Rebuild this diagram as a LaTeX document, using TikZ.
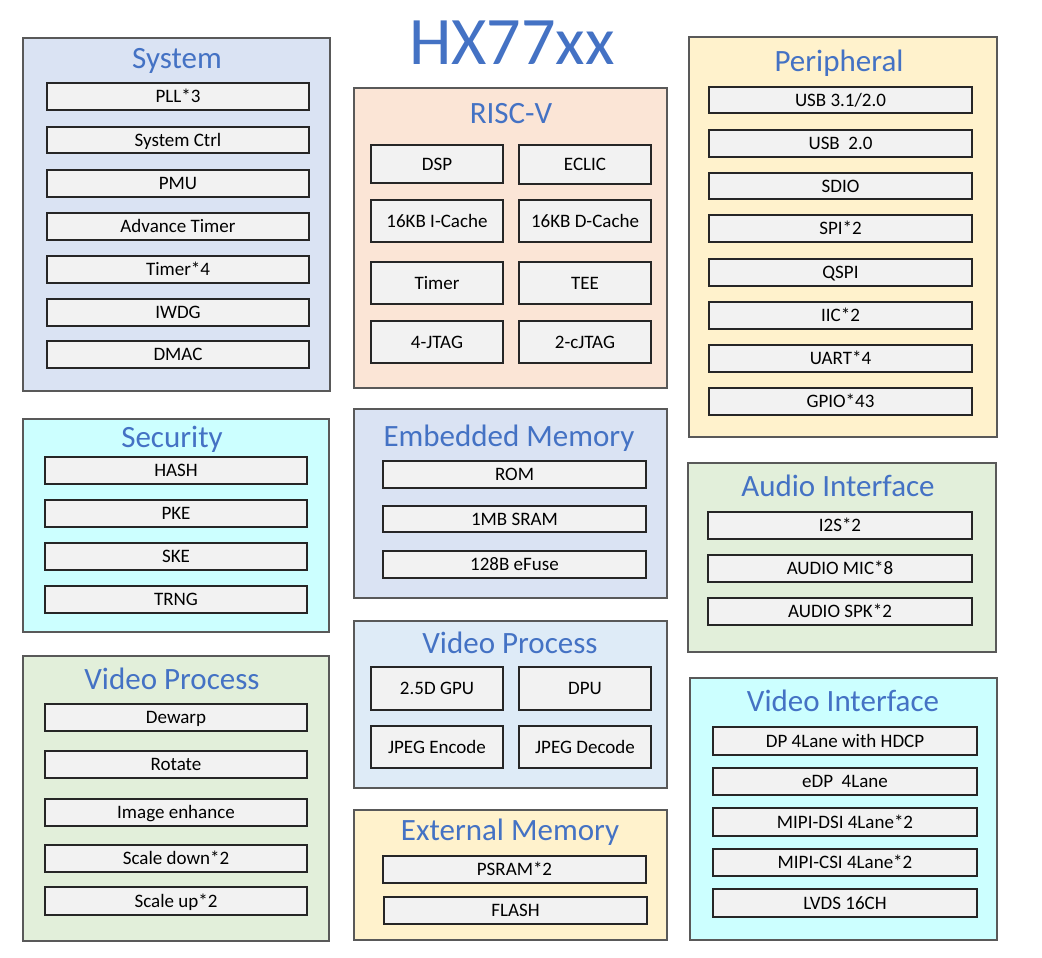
\documentclass[tikz,border=0pt]{standalone}
\usepackage{fontspec}
\setmainfont{Carlito}
\definecolor{ttlblue}{HTML}{4472C4}
\definecolor{fBlue}{HTML}{DAE3F3}
\definecolor{fPeach}{HTML}{FBE5D6}
\definecolor{fYellow}{HTML}{FFF2CC}
\definecolor{fCyan}{HTML}{CCFFFF}
\definecolor{fGreen}{HTML}{E2EFDA}
\definecolor{fSky}{HTML}{DEEBF7}
\definecolor{fItem}{HTML}{F2F2F2}
\definecolor{bOuter}{HTML}{595959}
\definecolor{bItem}{HTML}{262626}
\tikzset{
  groupbox/.style={draw=bOuter, line width=1.3pt, inner sep=0pt},
  itembox/.style={draw=bItem, fill=fItem, line width=1.1pt, inner sep=0pt,
    font=\fontsize{19}{21}\selectfont, text height=12.2pt, text depth=0pt},
  ttl/.style={anchor=base, text=ttlblue, inner sep=0pt, font=\fontsize{31}{34}\selectfont},
}
% \placebox{style}{name}{x1}{y1}{x2}{y2}{text}
\newcommand{\placebox}[7]{%
  \node[#1, minimum width={(#5-#3)*1pt}, minimum height={(#6-#4)*1pt}] (#2) at ({(#3+#5)/2},{(#4+#6)/2}) {#7};}
\begin{document}
\begin{tikzpicture}[x=1pt, y=-1pt]
\useasboundingbox (0,0) rectangle (1042,958);

% main title
\node[anchor=base, text=ttlblue, inner sep=0pt, font=\fontsize{68}{72}\selectfont] (main) at (512,65) {HX77xx};

% ---------- System ----------
\placebox{groupbox, fill=fBlue}{sys}{23}{38}{330}{391}{}
\node[ttl] (sysT) at (177,69) {System};
\placebox{itembox}{sys1}{47}{83}{309}{110}{PLL*3}
\placebox{itembox}{sys2}{47}{127}{309}{153}{System Ctrl}
\placebox{itembox}{sys3}{47}{170}{309}{197}{PMU}
\placebox{itembox}{sys4}{47}{213}{309}{240}{Advance Timer}
\placebox{itembox}{sys5}{47}{256}{309}{283}{Timer*4}
\placebox{itembox}{sys6}{47}{299}{309}{326}{IWDG}
\placebox{itembox}{sys7}{47}{341}{309}{368}{DMAC}

% ---------- Security ----------
\placebox{groupbox, fill=fCyan}{sec}{23}{419}{329}{632}{}
\node[ttl] (secT) at (172,447) {Security};
\placebox{itembox}{sec1}{45}{457}{307}{484}{HASH}
\placebox{itembox}{sec2}{45}{500}{307}{527}{PKE}
\placebox{itembox}{sec3}{45}{543}{307}{570}{SKE}
\placebox{itembox}{sec4}{45}{586}{307}{613}{TRNG}

% ---------- Video Process (left) ----------
\placebox{groupbox, fill=fGreen}{vpl}{23}{656}{329}{941}{}
\node[ttl] (vplT) at (172,689) {Video Process};
\placebox{itembox}{vpl1}{45}{704}{307}{731}{Dewarp}
\placebox{itembox}{vpl2}{45}{751}{307}{778}{Rotate}
\placebox{itembox}{vpl3}{45}{799}{307}{826}{Image enhance}
\placebox{itembox}{vpl4}{45}{845}{307}{872}{Scale down*2}
\placebox{itembox}{vpl5}{45}{887}{307}{915}{Scale up*2}

% ---------- RISC-V ----------
\placebox{groupbox, fill=fPeach}{rv}{354}{88}{667}{388}{}
\node[ttl] (rvT) at (511,124) {RISC-V};
\placebox{itembox}{rv1}{371}{145}{503}{183}{DSP}
\placebox{itembox}{rv2}{519}{145}{651}{184}{ECLIC}
\placebox{itembox}{rv3}{371}{200}{503}{242}{16KB I-Cache}
\placebox{itembox}{rv4}{519}{200}{651}{242}{16KB D-Cache}
\placebox{itembox}{rv5}{371}{262}{503}{304}{Timer}
\placebox{itembox}{rv6}{519}{262}{651}{304}{TEE}
\placebox{itembox}{rv7}{371}{321}{503}{363}{4-JTAG}
\placebox{itembox}{rv8}{519}{321}{651}{363}{2-cJTAG}

% ---------- Embedded Memory ----------
\placebox{groupbox, fill=fBlue}{em}{354}{409}{667}{598}{}
\node[ttl] (emT) at (509,446) {Embedded Memory};
\placebox{itembox}{em1}{383}{461}{646}{488}{ROM}
\placebox{itembox}{em2}{383}{506}{646}{532}{1MB SRAM}
\placebox{itembox}{em3}{383}{551}{646}{578}{128B eFuse}

% ---------- Video Process (middle) ----------
\placebox{groupbox, fill=fSky}{vpm}{354}{621}{667}{788}{}
\node[ttl] (vpmT) at (510,653) {Video Process};
\placebox{itembox}{vpm1}{371}{667}{503}{710}{2.5D GPU}
\placebox{itembox}{vpm2}{519}{667}{651}{710}{DPU}
\placebox{itembox}{vpm3}{371}{726}{503}{768}{JPEG Encode}
\placebox{itembox}{vpm4}{519}{726}{651}{768}{JPEG Decode}

% ---------- External Memory ----------
\placebox{groupbox, fill=fYellow}{xm}{354}{810}{667}{940}{}
\node[ttl] (xmT) at (510,840) {External Memory};
\placebox{itembox}{xm1}{383}{856}{646}{883}{PSRAM*2}
\placebox{itembox}{xm2}{384}{897}{647}{924}{FLASH}

% ---------- Peripheral ----------
\placebox{groupbox, fill=fYellow}{per}{689}{37}{997}{437}{}
\node[ttl] (perT) at (839,71) {Peripheral};
\placebox{itembox}{per1}{709}{87}{972}{113}{USB 3.1/2.0}
\placebox{itembox}{per2}{709}{130}{972}{157}{USB\ \ 2.0}
\placebox{itembox}{per3}{709}{173}{972}{199}{SDIO}
\placebox{itembox}{per4}{709}{215}{972}{242}{SPI*2}
\placebox{itembox}{per5}{709}{259}{972}{286}{QSPI}
\placebox{itembox}{per6}{709}{302}{972}{329}{IIC*2}
\placebox{itembox}{per7}{709}{345}{972}{372}{UART*4}
\placebox{itembox}{per8}{709}{388}{972}{415}{GPIO*43}

% ---------- Audio Interface ----------
\placebox{groupbox, fill=fGreen}{aud}{688}{463}{996}{652}{}
\node[ttl] (audT) at (838,496) {Audio Interface};
\placebox{itembox}{aud1}{708}{512}{972}{539}{I2S*2}
\placebox{itembox}{aud2}{708}{555}{972}{582}{AUDIO MIC*8}
\placebox{itembox}{aud3}{708}{598}{972}{625}{AUDIO SPK*2}

% ---------- Video Interface ----------
\placebox{groupbox, fill=fCyan}{vif}{690}{678}{997}{940}{}
\node[ttl] (vifT) at (843,711) {Video Interface};
\placebox{itembox}{vif1}{713}{727}{977}{755}{DP 4Lane with HDCP}
\placebox{itembox}{vif2}{713}{768}{977}{795}{eDP\ \ 4Lane}
\placebox{itembox}{vif3}{713}{808}{977}{836}{MIPI-DSI 4Lane*2}
\placebox{itembox}{vif4}{713}{849}{977}{876}{MIPI-CSI 4Lane*2}
\placebox{itembox}{vif5}{713}{889}{977}{917}{LVDS 16CH}
\end{tikzpicture}
\end{document}
